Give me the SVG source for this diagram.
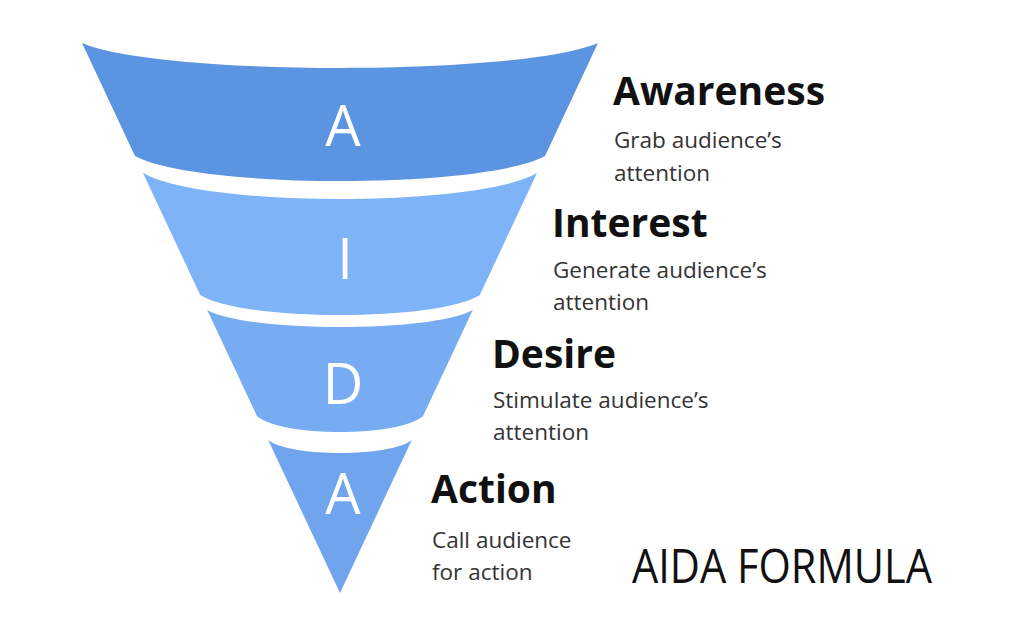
<svg xmlns="http://www.w3.org/2000/svg" width="1024" height="637" viewBox="0 0 1024 637">
  <style>
    .letter { font-family: "Open Sans", "Liberation Sans", sans-serif; font-size: 56px; fill: #ffffff; text-anchor: middle; }
    .title { font-family: "Open Sans", "Liberation Sans", sans-serif; font-weight: bold; font-size: 39px; fill: #111111; }
    .desc { font-family: "Open Sans", "Liberation Sans", sans-serif; font-size: 22.5px; fill: #333333; }
    .formula { font-family: "Open Sans", "Liberation Sans", sans-serif; font-size: 48px; fill: #111111; }
  </style>
  <rect width="1024" height="637" fill="#ffffff"/>

  <g id="band-awareness">
    <path d="M82,43 C159.4,76.3 520.6,76.3 598,43 L545,156 C483.5,189.3 196.5,189.3 135,156 Z" fill="#5b94e1"/>
    <text class="letter" x="343" y="146">A</text>
  </g>
  <g id="band-interest">
    <path d="M143,173 C202.1,207.7 477.9,207.7 537,173 L479.8,295 C437.9,321.7 242.1,321.7 200.2,295 Z" fill="#7fb3f7"/>
    <text class="letter" x="345" y="279">I</text>
  </g>
  <g id="band-desire">
    <path d="M207.2,310 C247,332.7 433,332.7 472.8,310 L423.1,416 C398.2,437.3 281.8,437.3 256.9,416 Z" fill="#78acf2"/>
    <text class="letter" x="343" y="404">D</text>
  </g>
  <g id="band-action">
    <path d="M268.2,440 C289.7,457.3 390.3,457.3 411.8,440 L340,593 Z" fill="#70a5ee"/>
    <text class="letter" x="343" y="514">A</text>
  </g>

  <g id="label-awareness">
    <text class="title" x="613" y="105">Awareness</text>
    <text class="desc" x="614" y="148">Grab audience’s</text>
    <text class="desc" x="614" y="181">attention</text>
  </g>
  <g id="label-interest">
    <text class="title" x="552" y="237">Interest</text>
    <text class="desc" x="553" y="278">Generate audience’s</text>
    <text class="desc" x="553" y="310">attention</text>
  </g>
  <g id="label-desire">
    <text class="title" x="492" y="368">Desire</text>
    <text class="desc" x="493" y="408">Stimulate audience’s</text>
    <text class="desc" x="493" y="440">attention</text>
  </g>
  <g id="label-action">
    <text class="title" x="431" y="503">Action</text>
    <text class="desc" x="432" y="548">Call audience</text>
    <text class="desc" x="432" y="580">for action</text>
  </g>

  <g id="formula">
    <text class="formula" x="632" y="583" textLength="300" lengthAdjust="spacingAndGlyphs">AIDA FORMULA</text>
  </g>
  <g id="connectors"/>
</svg>
